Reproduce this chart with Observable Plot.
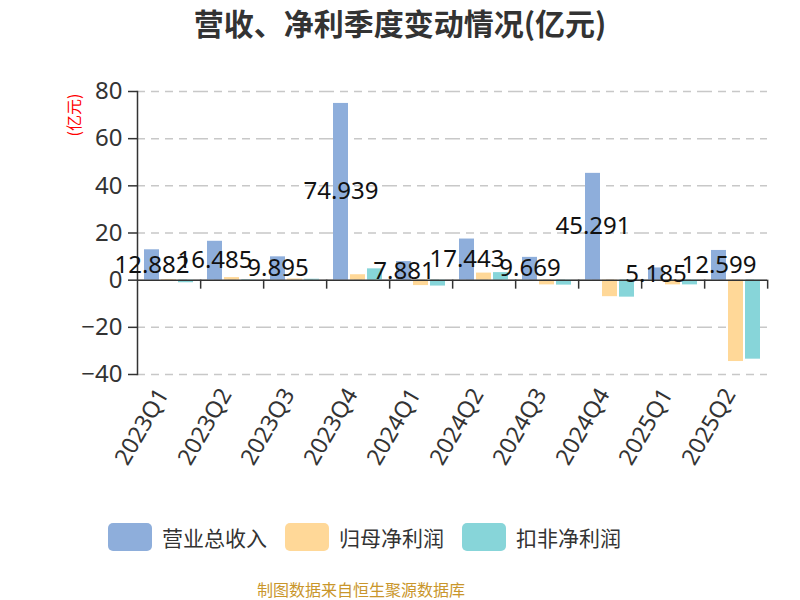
<!DOCTYPE html>
<html>
<head>
<meta charset="utf-8">
<script src="https://cdn.jsdelivr.net/npm/d3@7"></script>
<script src="https://cdn.jsdelivr.net/npm/@observablehq/plot@0.6"></script>
<style>
  body { margin:0; width:800px; height:600px; position:relative; background:#fff; overflow:hidden;
         font-family:"Noto Sans","Noto Sans CJK SC",sans-serif; }
  #title { position:absolute; left:0; top:0; width:800px; text-align:center; font-size:30px; font-weight:bold;
           color:#333; line-height:44px; font-family:"Noto Sans CJK SC",sans-serif; }
  #unit { position:absolute; left:73px; top:115px; transform:translate(-50%,-50%) rotate(-90deg);
          color:#ff0000; font-size:16px; font-family:"Noto Sans CJK SC",sans-serif; white-space:nowrap; }
  #chart { position:absolute; left:0; top:50px; }
  #legend { position:absolute; left:108px; top:522px; display:flex; align-items:center;
            font-family:"Noto Sans CJK SC",sans-serif; font-size:21px; color:#333; }
  .item { display:flex; align-items:center; margin-right:18px; }
  .sw { width:44px; height:28px; border-radius:5px; margin-right:10px; }
  #caption { position:absolute; left:0; width:722px; text-align:center; top:576px; font-size:16px; line-height:26px;
             color:#c9962b; font-family:"Noto Sans CJK SC",sans-serif; }
</style>
</head>
<body>
<div id="title">营收、净利季度变动情况(亿元)</div>
<div id="unit">(亿元)</div>
<div id="chart"></div>
<div id="legend"></div>
<div id="caption">制图数据来自恒生聚源数据库</div>
<script>
const quarters = ["2023Q1","2023Q2","2023Q3","2023Q4","2024Q1","2024Q2","2024Q3","2024Q4","2025Q1","2025Q2"];
const revenue = [12.882, 16.485, 9.895, 74.939, 7.881, 17.443, 9.669, 45.291, 5.185, 12.599];
const netProfit = [0.3, 1.1, 0.5, 2.3, -2.3, 3.0, -2.0, -7.0, -2.0, -34.5];
const deductedProfit = [-1.1, 0.2, 0.4, 4.8, -2.5, 3.2, -2.1, -7.2, -2.0, -33.5];
const seriesNames = ["营业总收入","归母净利润","扣非净利润"];
const seriesColors = ["#8eaedb","#ffd898","#87d5d9"];
const yTicks = [-40, -20, 0, 20, 40, 60, 80];

const seriesValues = [revenue, netProfit, deductedProfit];
const data = quarters.flatMap((q, i) => seriesNames.map((s, k) => ({q, s, v: seriesValues[k][i]})));
const labels = data.filter(d => d.s === seriesNames[0]);

const W = 800, H = 450, mL = 135, mR = 32, mT = 41, mB = 126;
const step = (W - mL - mR) / quarters.length;
const pxPerUnit = (H - mT - mB) / (yTicks[yTicks.length-1] - yTicks[0]);
const zeroFromBottom = (0 - yTicks[0]) * pxPerUnit;

const chart = Plot.plot({
  width: W, height: H,
  marginLeft: mL, marginRight: mR, marginTop: mT, marginBottom: mB,
  style: {fontFamily: "'Noto Sans', sans-serif", fontSize: "24px", color: "#333", overflow: "visible", background: "transparent"},
  fx: {domain: quarters, paddingInner: 0, paddingOuter: 0, label: null},
  x: {domain: seriesNames, paddingInner: 0.09, paddingOuter: 0.35, axis: null},
  y: {domain: [yTicks[0], yTicks[yTicks.length-1]], label: null},
  color: {domain: seriesNames, range: seriesColors},
  marks: [
    Plot.gridY(yTicks, {stroke: "#c8c8c8", strokeOpacity: 1, strokeWidth: 1.5, strokeDasharray: "8,6"}),
    Plot.barY(data, {fx: "q", x: "s", y: "v", fill: "s"}),
    Plot.ruleY([0], {stroke: "#333", strokeWidth: 1.5}),
    Plot.frame({anchor: "left", facetAnchor: "left", stroke: "#333", strokeWidth: 1.5}),
    Plot.axisY(yTicks, {tickSize: 9, tickPadding: 6, fontSize: 24, stroke: "#333", fill: "#333", strokeWidth: 1.5, label: null}),
    Plot.axisFx({anchor: "bottom", tickFormat: () => "", tickSize: 9, dx: step / 2, dy: -zeroFromBottom, stroke: "#333", strokeWidth: 1.5, label: null}),
    Plot.axisFx({anchor: "bottom", tickSize: 0, tickRotate: -60, tickPadding: 16, dx: -6, fontSize: 23, fill: "#333", label: null}),
    Plot.text(labels, {fx: "q", x: "s", y: d => d.v / 2, text: d => String(d.v), fontSize: 24, fill: "#111"})
  ]
});
document.getElementById("chart").appendChild(chart);

const legend = document.getElementById("legend");
seriesNames.forEach((s, k) => {
  const it = document.createElement("div"); it.className = "item";
  const sw = document.createElement("div"); sw.className = "sw"; sw.style.background = seriesColors[k];
  const tx = document.createElement("span"); tx.textContent = s;
  it.appendChild(sw); it.appendChild(tx); legend.appendChild(it);
});
</script>
</body>
</html>
